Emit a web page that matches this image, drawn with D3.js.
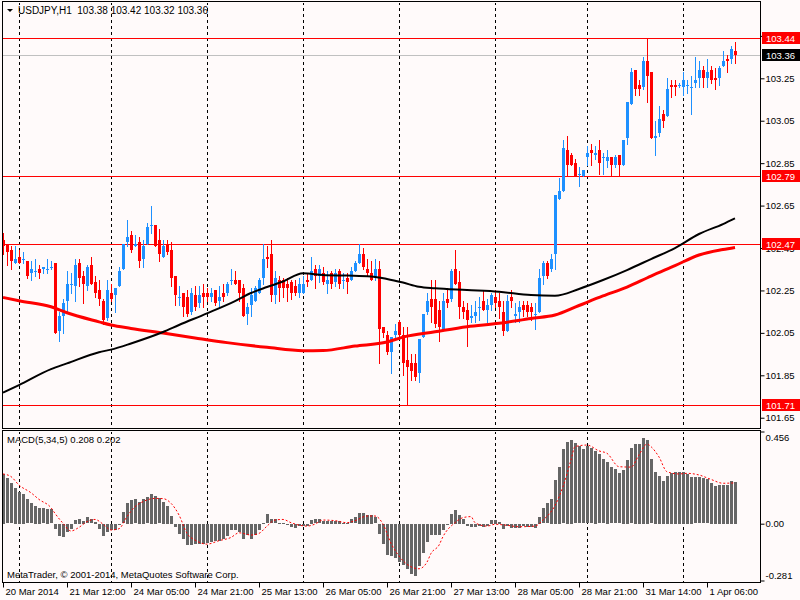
<!DOCTYPE html>
<html>
<head>
<meta charset="utf-8">
<script src="https://cdn.jsdelivr.net/npm/d3@7"></script>
<style>
body {margin: 0; background: #fffafa;}
text {font-family: "Liberation Sans", Arial, sans-serif; font-size: 9.5px;}
text.head {font-size: 10px; white-space: pre;}
</style>
</head>
<body>
<div id="chart"></div>
<script>
// hourly candles, bar 0 = 20 Mar 20:00 ... bar 183 = 1 Apr 13:00
const OPENS = [102.49,102.47,102.44,102.38,102.41,102.40,102.39,102.33,102.34,102.35,102.35,102.35,102.36,102.38,102.06,102.13,102.20,102.28,102.27,102.38,
  102.32,102.27,102.37,102.29,102.25,102.20,102.12,102.24,102.23,102.27,102.35,102.48,102.51,102.46,102.48,102.40,102.47,102.56,102.56,102.49,
  102.41,102.47,102.44,102.32,102.22,102.24,102.22,102.15,102.23,102.19,102.24,102.24,102.22,102.25,102.20,102.24,102.24,102.30,102.30,102.30,
  102.26,102.14,102.18,102.20,102.24,102.31,102.41,102.42,102.23,102.30,102.30,102.28,102.29,102.27,102.24,102.24,102.30,102.30,102.35,102.32,
  102.33,102.28,102.33,102.29,102.34,102.30,102.31,102.30,102.34,102.38,102.42,102.35,102.33,102.31,102.35,102.08,102.04,101.96,102.04,102.10,
  102.04,101.92,101.91,101.91,101.86,102.03,102.15,102.21,102.21,102.16,102.07,102.21,102.21,102.35,102.29,102.17,102.16,102.12,102.13,102.17,
  102.20,102.16,102.18,102.22,102.20,102.15,102.06,102.22,102.13,102.15,102.18,102.18,102.17,102.14,102.15,102.32,102.38,102.35,102.42,102.68,
  102.72,102.91,102.89,102.85,102.80,102.79,102.88,102.91,102.89,102.91,102.88,102.86,102.88,102.84,102.89,102.84,102.97,103.13,103.29,103.22,
  103.21,103.33,103.28,102.97,102.99,103.08,103.07,103.22,103.22,103.22,103.21,103.22,103.21,103.23,103.25,103.29,103.25,103.29,103.25,103.25,
  103.31,103.34,103.34,103.38];
const HIGHS = [102.52,102.47,102.46,102.46,102.44,102.43,102.39,102.39,102.40,102.37,102.36,102.40,102.39,102.38,102.15,102.21,102.34,102.33,102.40,102.40,
  102.34,102.37,102.41,102.32,102.30,102.21,102.30,102.28,102.26,102.36,102.47,102.58,102.53,102.51,102.50,102.49,102.57,102.65,102.56,102.54,
  102.49,102.49,102.48,102.32,102.27,102.24,102.25,102.26,102.27,102.27,102.28,102.26,102.26,102.25,102.27,102.28,102.29,102.35,102.34,102.30,
  102.28,102.19,102.26,102.27,102.31,102.47,102.46,102.49,102.34,102.32,102.31,102.31,102.30,102.30,102.31,102.32,102.33,102.41,102.37,102.37,
  102.36,102.34,102.34,102.35,102.35,102.33,102.33,102.36,102.39,102.47,102.45,102.40,102.39,102.40,102.39,102.08,102.06,102.03,102.09,102.11,
  102.08,102.08,101.95,101.95,102.02,102.14,102.24,102.30,102.30,102.20,102.24,102.26,102.35,102.44,102.34,102.20,102.19,102.18,102.20,102.22,
  102.25,102.21,102.24,102.25,102.24,102.20,102.23,102.25,102.19,102.20,102.20,102.20,102.19,102.19,102.35,102.39,102.39,102.42,102.70,102.78,
  102.96,102.98,102.90,102.87,102.83,102.82,102.93,102.94,102.93,102.96,102.90,102.91,102.88,102.89,102.89,102.96,103.14,103.30,103.29,103.24,
  103.35,103.44,103.28,103.05,103.12,103.10,103.25,103.24,103.24,103.23,103.28,103.24,103.26,103.35,103.33,103.31,103.34,103.31,103.30,103.31,
  103.38,103.36,103.40,103.42];
const LOWS = [102.42,102.37,102.35,102.38,102.38,102.38,102.31,102.30,102.32,102.31,102.33,102.33,102.35,102.05,102.01,102.05,102.15,102.24,102.20,102.27,
  102.19,102.25,102.28,102.22,102.18,102.09,102.11,102.20,102.15,102.27,102.35,102.46,102.43,102.46,102.36,102.36,102.47,102.52,102.46,102.39,
  102.41,102.42,102.27,102.18,102.18,102.13,102.13,102.14,102.16,102.17,102.17,102.20,102.20,102.18,102.17,102.20,102.23,102.28,102.28,102.20,
  102.13,102.09,102.13,102.20,102.24,102.28,102.36,102.20,102.19,102.20,102.22,102.20,102.21,102.23,102.22,102.24,102.27,102.30,102.26,102.29,
  102.28,102.24,102.26,102.27,102.26,102.26,102.24,102.30,102.34,102.38,102.35,102.32,102.30,102.30,101.91,102.03,101.95,101.86,102.02,102.02,
  101.85,101.71,101.83,101.83,101.82,102.03,102.14,102.10,102.08,102.01,102.07,102.17,102.20,102.28,102.12,102.12,101.99,102.10,102.10,102.11,
  102.16,102.10,102.16,102.17,102.12,102.04,102.06,102.17,102.10,102.10,102.13,102.13,102.11,102.07,102.15,102.28,102.31,102.34,102.35,102.68,
  102.72,102.79,102.84,102.79,102.74,102.79,102.84,102.84,102.87,102.80,102.80,102.83,102.79,102.83,102.79,102.84,102.94,103.13,103.17,103.17,
  103.20,103.14,102.97,102.89,102.98,103.02,103.07,103.16,103.17,103.21,103.17,103.18,103.08,103.21,103.21,103.21,103.21,103.23,103.20,103.22,
  103.31,103.28,103.32,103.32];
const CLOSES = [102.46,102.43,102.39,102.40,102.38,102.40,102.32,102.35,102.34,102.33,102.36,102.35,102.36,102.05,102.13,102.19,102.28,102.28,102.37,102.31,
  102.28,102.36,102.28,102.24,102.21,102.11,102.25,102.21,102.26,102.34,102.47,102.50,102.44,102.47,102.39,102.46,102.55,102.56,102.46,102.42,
  102.46,102.43,102.31,102.23,102.22,102.17,102.14,102.24,102.17,102.23,102.22,102.22,102.24,102.19,102.22,102.22,102.28,102.30,102.28,102.24,
  102.13,102.17,102.23,102.26,102.30,102.40,102.40,102.23,102.31,102.26,102.26,102.26,102.24,102.24,102.28,102.28,102.29,102.34,102.32,102.35,
  102.29,102.30,102.28,102.33,102.28,102.30,102.29,102.34,102.38,102.42,102.36,102.33,102.30,102.35,102.07,102.05,101.96,102.03,102.06,102.04,
  101.91,101.89,101.87,101.84,102.02,102.14,102.20,102.17,102.09,102.08,102.20,102.19,102.34,102.28,102.17,102.15,102.11,102.13,102.15,102.17,
  102.16,102.18,102.23,102.19,102.17,102.06,102.20,102.20,102.14,102.17,102.16,102.15,102.15,102.14,102.31,102.38,102.32,102.40,102.70,102.72,
  102.92,102.84,102.84,102.79,102.80,102.82,102.90,102.90,102.90,102.85,102.88,102.88,102.84,102.88,102.84,102.96,103.14,103.28,103.20,103.20,
  103.33,103.26,102.97,102.98,103.06,103.05,103.20,103.21,103.21,103.22,103.24,103.22,103.21,103.24,103.29,103.25,103.28,103.24,103.24,103.30,
  103.33,103.33,103.39,103.36];

// moving averages, sampled along the bars
const MA_IDX = [0,4,12,16,24,27,32,40,44,51,58,62,66,70,75,80,86,92,96,100,104,108,116,124,132,138,144,150,156,162,168,174,180,183];
const MA_BLACK = [101.768,101.804,101.879,101.906,101.959,101.971,102.000,102.054,102.087,102.142,102.200,102.238,102.266,102.292,102.331,102.323,102.320,
  102.316,102.304,102.287,102.267,102.260,102.252,102.244,102.228,102.225,102.257,102.299,102.346,102.398,102.450,102.516,102.563,102.590];
const MA_RED_IDX = [0,4,12,16,24,27,32,40,48,56,66,75,80,88,96,100,108,116,124,132,138,144,150,156,162,168,174,180,183];
const MA_RED = [102.217,102.201,102.173,102.145,102.102,102.087,102.071,102.049,102.026,102.004,101.982,101.966,101.967,101.988,102.007,102.030,102.055,
  102.079,102.095,102.118,102.134,102.179,102.224,102.266,102.318,102.367,102.417,102.443,102.453];

// MACD(5,34,5) main histogram, one per bar
const MACD = [0.246,0.224,0.200,0.178,0.158,0.147,0.121,0.100,0.087,0.080,0.076,0.072,0.071,-0.023,-0.061,-0.065,-0.039,-0.026,0.018,0.023,
  0.013,0.031,0.022,0.010,-0.023,-0.061,-0.039,-0.031,-0.031,-0.002,0.056,0.104,0.117,0.121,0.109,0.122,0.130,0.147,0.137,0.126,
  0.107,0.087,0.038,-0.017,-0.048,-0.072,-0.106,-0.106,-0.100,-0.100,-0.098,-0.094,-0.089,-0.084,-0.084,-0.072,-0.061,-0.031,-0.028,-0.039,
  -0.072,-0.056,-0.072,-0.056,-0.028,0.002,0.046,0.022,0.022,0.002,0.005,-0.002,-0.015,-0.018,-0.011,-0.011,-0.008,0.018,0.022,0.022,
  0.015,0.013,0.013,0.013,0.013,0.005,0.005,0.022,0.031,0.052,0.052,0.043,0.043,0.031,-0.048,-0.100,-0.155,-0.160,-0.167,-0.190,
  -0.204,-0.221,-0.246,-0.258,-0.208,-0.143,-0.089,-0.052,-0.052,-0.056,-0.028,-0.004,0.048,0.068,0.043,0.023,-0.008,-0.015,-0.015,-0.008,
  -0.015,-0.008,0.018,0.018,0.010,-0.023,-0.008,-0.018,-0.018,-0.018,-0.011,-0.015,-0.015,-0.018,0.035,0.076,0.100,0.122,0.217,0.282,
  0.368,0.406,0.414,0.398,0.382,0.368,0.382,0.373,0.362,0.343,0.319,0.307,0.279,0.269,0.249,0.265,0.315,0.373,0.395,0.395,
  0.423,0.414,0.319,0.258,0.236,0.213,0.236,0.252,0.258,0.258,0.258,0.246,0.233,0.230,0.230,0.224,0.219,0.203,0.187,0.191,
  0.191,0.191,0.211,0.208];
// signal line, sampled
const SIG_IDX = [0,2,4,7,9,12,13,15,17,19,21,23,25,27,29,31,33,35,38,40,42,44,46,48,51,54,57,59,62,64,66,68,70,72,74,76,78,80,83,86,88,91,93,95,97,99,
  102,104,106,107,109,110,113,115,117,118,121,123,126,129,133,135,138,140,142,143,146,149,151,154,157,159,161,162,164,166,169,171,174,177,180,183];
const SIG = [0.246,0.233,0.191,0.153,0.120,0.079,0.051,0.002,-0.036,-0.018,0.010,0.021,-0.002,-0.031,-0.025,0.035,0.084,0.109,0.125,0.124,0.101,0.043,
  -0.048,-0.081,-0.101,-0.084,-0.068,-0.045,-0.056,-0.048,-0.012,0.018,0.021,0.005,-0.007,-0.012,-0.002,0.018,0.015,0.005,0.015,0.038,0.038,-0.002,
  -0.097,-0.160,-0.213,-0.223,-0.190,-0.147,-0.106,-0.064,0.005,0.030,0.035,0.005,-0.012,-0.003,-0.008,-0.015,-0.012,0.018,0.090,0.183,0.315,0.381,
  0.389,0.360,0.348,0.282,0.280,0.340,0.394,0.381,0.330,0.257,0.246,0.249,0.241,0.219,0.200,0.202];

// axes
const TIME_IDX = [0,16,32,48,64,80,96,112,128,144,160,176];
const TIME_LABELS = ["20 Mar 2014","21 Mar 12:00","24 Mar 05:00","24 Mar 21:00","25 Mar 13:00","26 Mar 05:00",
  "26 Mar 21:00","27 Mar 13:00","28 Mar 05:00","28 Mar 21:00","31 Mar 14:00","1 Apr 06:00"];
const DAY_IDX = [4,27,51,75,99,123,146,170];
const PRICE_TICKS = [103.45,103.25,103.05,102.85,102.65,102.45,102.25,102.05,101.85,101.65];
const LEVELS = [103.44,102.79,102.47,101.71];
const BID = 103.36;
const MACD_TICKS = [0.456,0,-0.281];
const MACD_TICK_LABELS = ["0.456","0.00","-0.281"];

// frame
const FRAME_WIDTH = 800;
const FRAME_HEIGHT = 600;
const MAIN = {left: 2, right: 761, top: 2, bottom: 428};
const SUB = {top: 431, bottom: 582};

const BULL = "#1e90ff";
const BEAR = "#ff0000";

const svg = d3.select("#chart")
  .append("svg")
    .attr("width", FRAME_WIDTH)
    .attr("height", FRAME_HEIGHT)
    .style("display", "block");

svg.append("rect")
  .attr("width", FRAME_WIDTH).attr("height", FRAME_HEIGHT)
  .attr("fill", "#fffafa");

const defs = svg.append("defs");
defs.append("clipPath").attr("id", "clipMain")
  .append("rect").attr("x", MAIN.left + 1).attr("y", MAIN.top + 1)
  .attr("width", MAIN.right - MAIN.left - 1).attr("height", MAIN.bottom - MAIN.top - 1);
defs.append("clipPath").attr("id", "clipSub")
  .append("rect").attr("x", MAIN.left + 1).attr("y", SUB.top + 1)
  .attr("width", MAIN.right - MAIN.left - 1).attr("height", SUB.bottom - SUB.top - 1);

// scales
const X = d3.scaleLinear().domain([0, 183]).range([3, 735]);
const Y = d3.scaleLinear().domain([101.71, 103.44]).range([405, 38]);
const YM = d3.scaleLinear().domain([-0.281, 0.456]).range([580.5, 431.5]);
const px = (v) => Math.round(v) + 0.5;

const gMain = svg.append("g").attr("clip-path", "url(#clipMain)");
const gSub = svg.append("g").attr("clip-path", "url(#clipSub)");

// day separators (dashed)
[[gMain, MAIN.top, MAIN.bottom], [gSub, SUB.top, SUB.bottom]].forEach(([g, y0, y1]) => {
  g.selectAll(null)
    .data(DAY_IDX)
    .enter()
    .append("line")
      .attr("x1", (d) => px(X(d))).attr("x2", (d) => px(X(d)))
      .attr("y1", y0).attr("y2", y1)
      .attr("stroke", "#000")
      .attr("stroke-dasharray", "3,3")
      .attr("shape-rendering", "crispEdges");
});

// horizontal levels + bid line
gMain.selectAll(null)
  .data(LEVELS)
  .enter()
  .append("line")
    .attr("x1", MAIN.left).attr("x2", MAIN.right)
    .attr("y1", (d) => px(Y(d))).attr("y2", (d) => px(Y(d)))
    .attr("stroke", "#ff0000")
    .attr("shape-rendering", "crispEdges");

gMain.append("line")
  .attr("x1", MAIN.left).attr("x2", MAIN.right)
  .attr("y1", px(Y(BID))).attr("y2", px(Y(BID)))
  .attr("stroke", "#c0c0c0")
  .attr("shape-rendering", "crispEdges");

// candles
const candles = gMain.selectAll("g.candle")
  .data(d3.range(OPENS.length))
  .enter()
  .append("g")
    .attr("shape-rendering", "crispEdges")
    .attr("fill", (i) => CLOSES[i] >= OPENS[i] ? BULL : BEAR)
    .attr("stroke", (i) => CLOSES[i] >= OPENS[i] ? BULL : BEAR);

candles.append("line")
  .attr("x1", (i) => px(X(i))).attr("x2", (i) => px(X(i)))
  .attr("y1", (i) => Math.round(Y(HIGHS[i])))
  .attr("y2", (i) => Math.round(Y(LOWS[i])) + 1);

candles.append("rect")
  .attr("stroke", "none")
  .attr("x", (i) => Math.round(X(i)) - 1)
  .attr("y", (i) => Math.round(Y(Math.max(OPENS[i], CLOSES[i]))))
  .attr("width", 3)
  .attr("height", (i) => Math.max(1, Math.round(Y(Math.min(OPENS[i], CLOSES[i]))) - Math.round(Y(Math.max(OPENS[i], CLOSES[i])))));

// moving averages
const maLine = d3.line()
  .x((d) => X(d[0]))
  .y((d) => Y(d[1]))
  .curve(d3.curveMonotoneX);

gMain.append("path")
  .attr("d", maLine(MA_RED_IDX.map((d, i) => [d, MA_RED[i]])))
  .attr("fill", "none")
  .attr("stroke", "#ff0000")
  .attr("stroke-width", 3);

gMain.append("path")
  .attr("d", maLine(MA_IDX.map((d, i) => [d, MA_BLACK[i]])))
  .attr("fill", "none")
  .attr("stroke", "#000")
  .attr("stroke-width", 2);

// MACD histogram
gSub.selectAll("rect.macd")
  .data(MACD)
  .enter()
  .append("rect")
    .attr("x", (d, i) => Math.round(X(i)) - 1)
    .attr("y", (d) => Math.round(YM(Math.max(0, d))))
    .attr("width", 3)
    .attr("height", (d) => Math.max(1, Math.round(Math.abs(YM(d) - YM(0)))))
    .attr("fill", "#666666")
    .attr("shape-rendering", "crispEdges");

// signal line
gSub.append("path")
  .attr("d", d3.line().x((d) => X(d[0])).y((d) => YM(d[1])).curve(d3.curveMonotoneX)(SIG_IDX.map((d, i) => [d, SIG[i]])))
  .attr("fill", "none")
  .attr("stroke", "#ff0000")
  .attr("stroke-width", 1)
  .attr("stroke-dasharray", "2,2");

// panel borders
svg.append("rect")
  .attr("x", MAIN.left + 0.5).attr("y", MAIN.top - 0.5)
  .attr("width", MAIN.right - MAIN.left - 1).attr("height", MAIN.bottom - MAIN.top + 1)
  .attr("fill", "none").attr("stroke", "#000").attr("shape-rendering", "crispEdges");
svg.append("rect")
  .attr("x", MAIN.left + 0.5).attr("y", SUB.top - 0.5)
  .attr("width", MAIN.right - MAIN.left - 1).attr("height", SUB.bottom - SUB.top + 1)
  .attr("fill", "none").attr("stroke", "#000").attr("shape-rendering", "crispEdges");

// price axis
const priceAxis = svg.append("g")
  .attr("transform", "translate(" + (MAIN.right - 0.5) + ",0)")
  .call(d3.axisRight(Y).tickValues(PRICE_TICKS).tickSize(4).tickPadding(1).tickFormat(d3.format(".2f")));
priceAxis.select(".domain").remove();
priceAxis.selectAll("text").attr("fill", "#000");

// MACD axis
const macdAxis = svg.append("g")
  .attr("transform", "translate(" + (MAIN.right - 0.5) + ",0)")
  .call(d3.axisRight(YM).tickValues(MACD_TICKS).tickSize(4).tickPadding(1).tickFormat((d, i) => MACD_TICK_LABELS[i]));
macdAxis.select(".domain").remove();
macdAxis.selectAll("text")
  .attr("fill", "#000")
  .attr("dy", (d) => d === 0.456 ? "0.9em" : d === -0.281 ? "-0.25em" : "0.32em");

// time axis
const timeAxis = svg.append("g")
  .attr("transform", "translate(0," + (SUB.bottom + 0.5) + ")")
  .call(d3.axisBottom(X).tickValues(TIME_IDX).tickSize(5).tickPadding(1).tickFormat((d, i) => TIME_LABELS[i]));
timeAxis.select(".domain").remove();
timeAxis.selectAll("text")
  .attr("fill", "#000")
  .attr("text-anchor", "start")
  .attr("x", 2);

// price level tags
const tags = svg.selectAll("g.tag")
  .data(LEVELS.map((v) => ({v: v, bg: "#ff0000"})).concat([{v: BID, bg: "#000"}]))
  .enter()
  .append("g");
tags.append("rect")
  .attr("x", MAIN.right + 1).attr("y", (d) => Math.round(Y(d.v)) - 6)
  .attr("width", FRAME_WIDTH - MAIN.right - 1).attr("height", 12)
  .attr("fill", (d) => d.bg);
tags.append("text")
  .attr("x", MAIN.right + 5).attr("y", (d) => Math.round(Y(d.v)) + 4)
  .attr("fill", "#fff")
  .text((d) => d.v.toFixed(2));

// header + captions
svg.append("path").attr("d", "M7,9 L13,9 L10,12 Z").attr("fill", "#000");
svg.append("text").attr("class", "head").attr("x", 18).attr("y", 14)
  .text("USDJPY,H1  " + [OPENS[183], HIGHS[183], LOWS[183], CLOSES[183]].map((d) => d.toFixed(2)).join(" "));
svg.append("text").attr("x", 7).attr("y", 443)
  .text("MACD(5,34,5) " + MACD[183].toFixed(3) + " " + SIG[SIG.length - 1].toFixed(3));
svg.append("text").attr("x", 7).attr("y", 578)
  .text("MetaTrader, \u00a9 2001-2014, MetaQuotes Software Corp.");
</script>
</body>
</html>
